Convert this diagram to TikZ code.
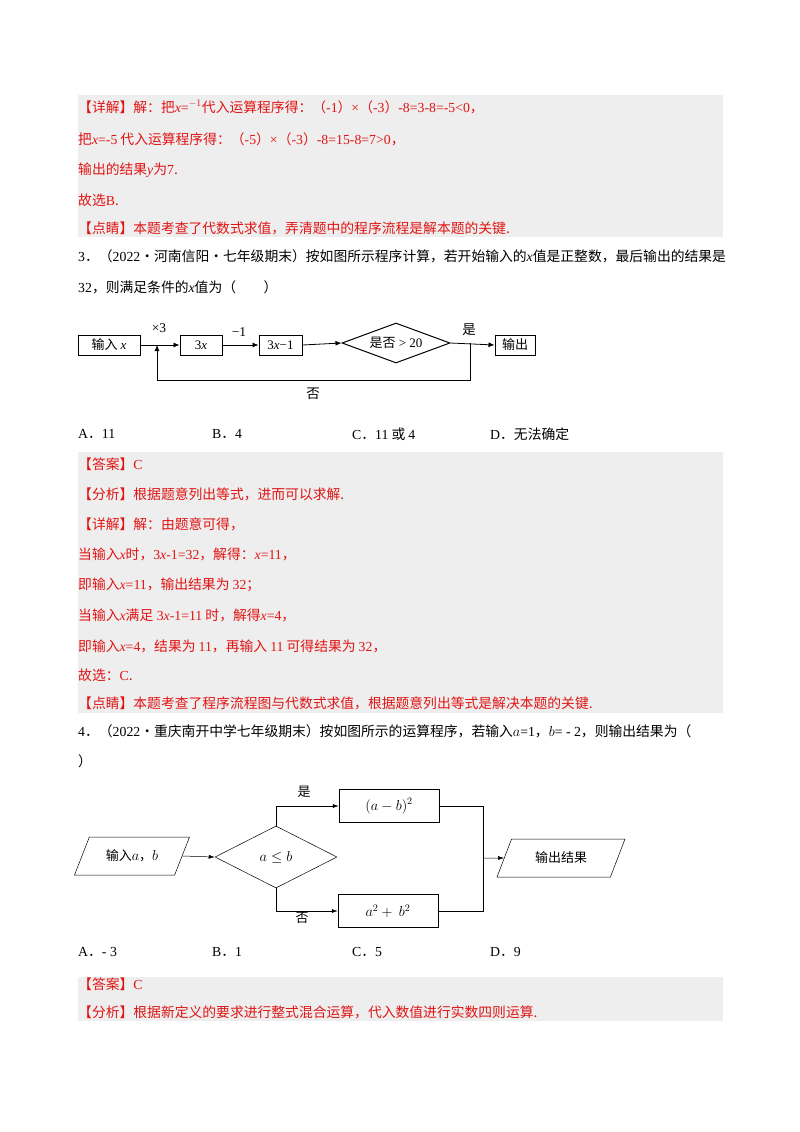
\documentclass[tikz,border=0pt]{standalone}
\usepackage{fontspec}
\setmainfont{Noto Sans CJK SC}
\newfontfamily\tnr{Liberation Serif}
\usetikzlibrary{shapes.geometric,arrows.meta}
\definecolor{ans}{RGB}{225,20,20}
\definecolor{bg}{RGB}{238,238,238}
\newcommand\vv[1]{{\tnr\itshape #1}}
\newcommand\nn[1]{{\tnr #1}}
\newcommand\bm[1]{{\fontsize{14}{15}\selectfont$#1$}}
\begin{document}
\begin{tikzpicture}[x=1pt,y=-1pt,
 tl/.style={anchor=west,inner sep=0pt,font=\fontsize{13.8}{15}\selectfont},
 rl/.style={tl,text=ans},
 bx/.style={draw,line width=1pt,minimum height=20pt,inner sep=2pt,font=\fontsize{13}{14}\selectfont},
 bx2/.style={draw,line width=0.5pt,minimum width=100pt,minimum height=33pt,font=\fontsize{13}{14}\selectfont},
 pg/.style={draw,line width=0.5pt,trapezium,trapezium left angle=52,trapezium right angle=128,trapezium stretches body,minimum height=38pt,font=\fontsize{13}{14}\selectfont},
 ar/.style={-{Latex[length=6pt,width=5pt]},line width=0.8pt},
 ar2/.style={-{Latex[length=6pt,width=4pt]},line width=0.5pt}]
\useasboundingbox (0,0) rectangle (800,1132);
\fill[bg] (78,95) rectangle (723,237);
\fill[bg] (78,452) rectangle (723,713);
\fill[bg] (78,977) rectangle (723,1021);
% block 1
\node[rl] (t1) at (78,107) {【详解】解：把\vv{x}\nn{=}$^{-1}$代入运算程序得：（\nn{-1}）\nn{×}（\nn{-3}）\nn{-8=3-8=-5<0}，};
\node[rl] (t2) at (78,139) {把\vv{x}\nn{=-5} 代入运算程序得：（\nn{-5}）\nn{×}（\nn{-3}）\nn{-8=15-8=7>0}，};
\node[rl] (t3) at (78,170) {输出的结果\vv{y}为\nn{7}.};
\node[rl] (t4) at (78,200) {故选\nn{B}.};
\node[rl] (t5) at (78,228) {【点睛】本题考查了代数式求值，弄清题中的程序流程是解本题的关键.};
\node[tl] (q3a) at (78,256) {\nn{3}．（\nn{2022}·河南信阳·七年级期末）按如图所示程序计算，若开始输入的\vv{x}值是正整数，最后输出的结果是};
\node[tl] (q3b) at (78,287) {\nn{32}，则满足条件的\vv{x}值为（\qquad）};
% diagram 1
\node[bx,minimum width=62pt] (in) at (109,345) {输入 \vv{x}};
\node[bx,minimum width=42pt] (b3x) at (201,345) {\nn{3}\vv{x}};
\node[bx,minimum width=43pt] (b3x1) at (280.5,345) {\nn{3}\vv{x}\nn{−1}};
\node[draw,line width=1pt,diamond,aspect=2.7,inner sep=1pt,minimum width=108pt,minimum height=40pt,font=\fontsize{13}{14}\selectfont] (dm) at (396,343) {是否\nn{ > 20}};
\node[bx,minimum width=40pt] (out) at (515,345) {输出};
\coordinate (j1) at (157,345);
\coordinate (j2) at (470,343);
\draw[line width=0.8pt] (in.east) -- (j1);
\draw[ar] (j1) -- (b3x.west);
\draw[ar] (b3x.east) -- (b3x1.west);
\draw[ar] (b3x1.east) -- (dm.west);
\draw[ar] (dm.east) -- (out.west);
\draw[ar] (j2) -- (470,380) -- (157,380) -- (j1);
\node[font=\fontsize{13.5}{14}\selectfont] (l1) at (159,328) {\nn{×3}};
\node[font=\fontsize{13.5}{14}\selectfont] (l2) at (239,332) {\nn{−1}};
\node[font=\fontsize{13.5}{14}\selectfont] (l3) at (469,330) {是};
\node[font=\fontsize{13.5}{14}\selectfont] (l4) at (313,394) {否};
% options
\node[tl] (oa) at (78,434) {\nn{A}．\nn{11}};
\node[tl] (ob) at (212,434) {\nn{B}．\nn{4}};
\node[tl] (oc) at (352,434) {\nn{C}．\nn{11} 或 \nn{4}};
\node[tl] (od) at (490,434) {\nn{D}．无法确定};
% block 2
\node[rl] (a1) at (78,464) {【答案】\nn{C}};
\node[rl] (a2) at (78,494) {【分析】根据题意列出等式，进而可以求解.};
\node[rl] (a3) at (78,524) {【详解】解：由题意可得，};
\node[rl] (a4) at (78,554) {当输入\vv{x}时，\nn{3}\vv{x}\nn{-1=32}，解得：\vv{x}\nn{=11}，};
\node[rl] (a5) at (78,585) {即输入\vv{x}\nn{=11}，输出结果为 \nn{32}；};
\node[rl] (a6) at (78,615) {当输入\vv{x}满足\nn{ 3}\vv{x}\nn{-1=11} 时，解得\vv{x}\nn{=4}，};
\node[rl] (a7) at (78,646) {即输入\vv{x}\nn{=4}，结果为 \nn{11}，再输入 \nn{11} 可得结果为 \nn{32}，};
\node[rl] (a8) at (78,675) {故选：\nn{C}.};
\node[rl] (a9) at (78,703) {【点睛】本题考查了程序流程图与代数式求值，根据题意列出等式是解决本题的关键.};
\node[tl] (q4a) at (78,731) {\nn{4}．（\nn{2022}·重庆南开中学七年级期末）按如图所示的运算程序，若输入\bm{a}\nn{=1}，\bm{b}\nn{= - 2}，则输出结果为（};
\node[tl] (q4b) at (78,761) {）};
% diagram 2
\node[pg,minimum width=115pt] (pin) at (132,856) {输入\bm{a}，\bm{b}};
\node[draw,line width=0.5pt,diamond,aspect=1.9,minimum width=122pt,minimum height=62pt,inner sep=1pt,font=\fontsize{13}{14}\selectfont] (d2) at (276,857) {\bm{a\le b}};
\node[bx2] (bt) at (389,806) {\bm{(a-b)^2}};
\node[bx2] (bb) at (388,911) {\bm{a^2+\ b^2}};
\node[pg,minimum width=128pt] (pout) at (561,858) {输出结果};
\draw[ar2] (pin.east) -- (d2.west);
\draw[ar2] (d2.north) -- (d2.north |- bt.west) -- (bt.west);
\draw[ar2] (d2.south) -- (d2.south |- bb.west) -- (bb.west);
\coordinate (m) at (483,858);
\draw[line width=0.5pt] (bt.east) -- (483,806) -- (483,911) -- (bb.east);
\draw[ar2] (m) -- (pout.west);
\node[font=\fontsize{13}{14}\selectfont] (y2) at (304,792) {是};
\node[font=\fontsize{13}{14}\selectfont] (n2) at (302,918) {否};
% options
\node[tl] (pa) at (78,952) {\nn{A}．\nn{- 3}};
\node[tl] (pb) at (212,952) {\nn{B}．\nn{1}};
\node[tl] (pc) at (352,952) {\nn{C}．\nn{5}};
\node[tl] (pd) at (490,952) {\nn{D}．\nn{9}};
\node[rl] (c1) at (78,984) {【答案】\nn{C}};
\node[rl] (c2) at (78,1012) {【分析】根据新定义的要求进行整式混合运算，代入数值进行实数四则运算.};
\end{tikzpicture}
\end{document}
